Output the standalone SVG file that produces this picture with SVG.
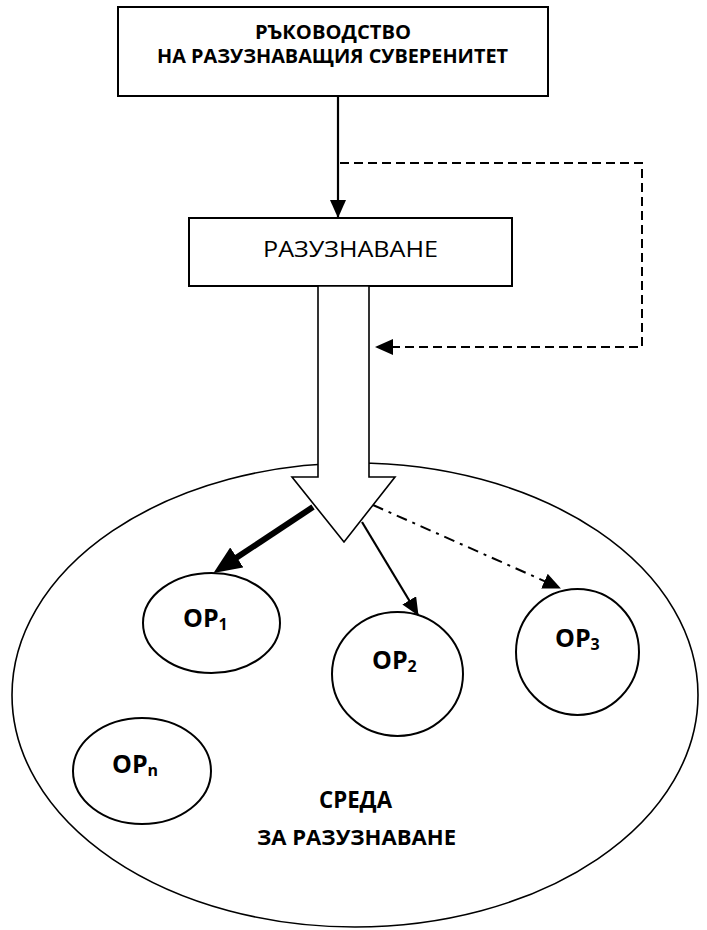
<svg xmlns="http://www.w3.org/2000/svg" width="707" height="930" viewBox="0 0 707 930">
<style>
  .box { fill: #ffffff; stroke: #000000; stroke-width: 2; }
  .ell { fill: #ffffff; stroke: #000000; stroke-width: 2; }
  .env { fill: #ffffff; stroke: #000000; stroke-width: 1.6; }
  .lbl { font-family: "Open Sans", "Liberation Sans", sans-serif; fill: #000000; }
  .b { font-weight: bold; }
  .conn { fill: none; stroke: #000000; }
</style>
<defs>
  <marker id="ah" markerUnits="userSpaceOnUse" markerWidth="18" markerHeight="16" refX="17" refY="8" orient="auto">
    <path d="M0,0 L18,8 L0,16 z" fill="#000000"/>
  </marker>
  <marker id="ahBig" markerUnits="userSpaceOnUse" markerWidth="28" markerHeight="24" refX="1" refY="12" orient="auto">
    <path d="M0,0 L28,12 L0,24 z" fill="#000000"/>
  </marker>
</defs>

<g id="environment">
  <ellipse class="env" cx="355" cy="695" rx="343" ry="232"/>
  <text class="lbl b" x="355.5" y="808" font-size="23" text-anchor="middle" textLength="73" lengthAdjust="spacingAndGlyphs">СРЕДА</text>
  <text class="lbl b" x="356.5" y="845" font-size="22" text-anchor="middle" textLength="199" lengthAdjust="spacingAndGlyphs">ЗА РАЗУЗНАВАНЕ</text>
</g>

<g id="op1">
  <ellipse class="ell" cx="211.5" cy="623" rx="68.5" ry="50"/>
  <text class="lbl b" x="183" y="627" font-size="25">OP<tspan font-size="16" dy="3">1</tspan></text>
</g>
<g id="op2">
  <ellipse class="ell" cx="397.5" cy="674" rx="65.5" ry="62"/>
  <text class="lbl b" x="372" y="669" font-size="25">OP<tspan font-size="16" dy="3">2</tspan></text>
</g>
<g id="op3">
  <ellipse class="ell" cx="577.5" cy="652" rx="61.5" ry="63"/>
  <text class="lbl b" x="555" y="647" font-size="25">OP<tspan font-size="16" dy="3">3</tspan></text>
</g>
<g id="opn">
  <ellipse class="ell" cx="142" cy="771" rx="69" ry="53"/>
  <text class="lbl b" x="112" y="773" font-size="25">OP<tspan font-size="16" dy="3">n</tspan></text>
</g>

<g id="leadership">
  <rect class="box" x="118" y="7" width="430" height="89"/>
  <text class="lbl b" x="333" y="39" font-size="19" text-anchor="middle" textLength="156" lengthAdjust="spacingAndGlyphs">РЪКОВОДСТВО</text>
  <text class="lbl b" x="332.5" y="63" font-size="19" text-anchor="middle" textLength="351" lengthAdjust="spacingAndGlyphs">НА РАЗУЗНАВАЩИЯ СУВЕРЕНИТЕТ</text>
</g>

<g id="intelligence">
  <rect class="box" x="189" y="218" width="323" height="68"/>
  <text class="lbl" x="350.5" y="257" font-size="22" text-anchor="middle" textLength="175" lengthAdjust="spacingAndGlyphs">РАЗУЗНАВАНЕ</text>
</g>

<g id="connectors">
  <polygon id="block-arrow" points="318,286 369,286 369,477 395,477 344,542 292,477 318,477" fill="#ffffff" stroke="#000000" stroke-width="1.6"/>
  <line class="conn" x1="338" y1="96" x2="338" y2="217" stroke-width="2.2" marker-end="url(#ah)"/>
  <path class="conn" d="M340,163 H642 V347 H376" stroke-width="2" stroke-dasharray="9,5" marker-end="url(#ah)"/>
  <line class="conn" x1="313" y1="507" x2="236" y2="558" stroke-width="6" marker-end="url(#ahBig)"/>
  <line class="conn" x1="362" y1="522" x2="418" y2="615" stroke-width="2.2" marker-end="url(#ah)"/>
  <line class="conn" x1="373" y1="505" x2="560" y2="588" stroke-width="2" stroke-dasharray="11,6,3,6" marker-end="url(#ah)"/>
</g>
</svg>
